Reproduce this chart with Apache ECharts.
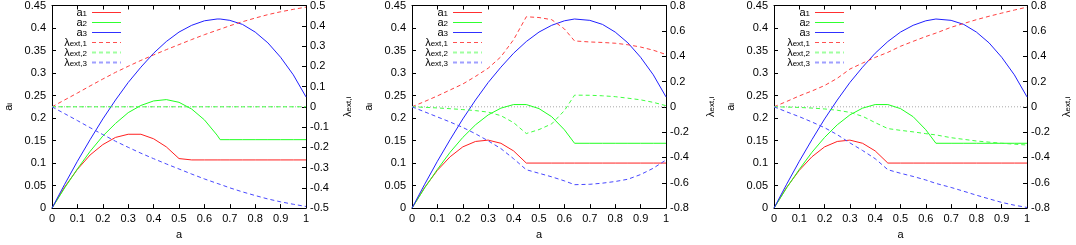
<!DOCTYPE html>
<html><head><meta charset="utf-8">
<script src="https://cdn.jsdelivr.net/npm/echarts@6/dist/echarts.min.js"></script>
<style>html,body{margin:0;padding:0;background:#fff}#c{width:1076px;height:245px}</style>
</head><body><div id="c"></div>
<script>
// ---- data ----
const seriesNames = ['a1','a2','a3','λext,1','λext,2','λext,3'];
const xTickStep = 0.1;
const leftTickStep = 0.05;

// panel 1
const X1 = [0,0.05,0.1,0.15,0.2,0.25,0.3,0.35,0.4,0.45,0.5,0.505,0.55,0.6,0.65,0.662,0.7,0.75,0.8,0.85,0.9,0.95,1];
const p1_a1 = [0,0.047,0.086,0.118,0.141,0.157,0.164,0.164,0.154,0.136,0.110,0.107,0.107,0.107,0.107,0.107,0.107,0.107,0.107,0.107,0.107,0.107,0.107];
const p1_a2 = [0,0.045,0.087,0.126,0.160,0.188,0.212,0.228,0.238,0.241,0.235,0.234,0.220,0.196,0.162,0.152,0.152,0.152,0.152,0.152,0.152,0.152,0.152];
const p1_a3 = [0,0.053,0.104,0.152,0.198,0.240,0.279,0.313,0.344,0.370,0.391,0.392,0.406,0.416,0.420,0.420,0.417,0.408,0.391,0.367,0.335,0.296,0.247];
const p1_l1 = [0,0.034,0.068,0.103,0.137,0.170,0.200,0.229,0.256,0.282,0.307,0.309,0.332,0.356,0.378,0.383,0.400,0.420,0.438,0.455,0.469,0.481,0.492];
const p1_l2 = [0,0,0,0,0,0,0,0,0,0,0,0,0,0,0,0,0,0,0,0,0,0,0];
const p1_l3 = [0,-0.034,-0.068,-0.103,-0.137,-0.170,-0.200,-0.229,-0.256,-0.282,-0.307,-0.309,-0.332,-0.356,-0.378,-0.383,-0.400,-0.420,-0.438,-0.455,-0.469,-0.481,-0.492];

// panel 2
const X2 = [0,0.05,0.1,0.15,0.2,0.25,0.3,0.35,0.4,0.45,0.5,0.55,0.6,0.64,0.7,0.75,0.8,0.85,0.9,0.95,1];
const p2_a1 = [0,0.046,0.084,0.114,0.136,0.148,0.151,0.144,0.127,0.100,0.100,0.100,0.100,0.100,0.100,0.100,0.100,0.100,0.100,0.100,0.100];
const p2_a2 = [0,0.045,0.086,0.124,0.157,0.185,0.207,0.222,0.230,0.230,0.221,0.203,0.174,0.144,0.144,0.144,0.144,0.144,0.144,0.144,0.144];
const p2_a3 = [0,0.053,0.104,0.152,0.198,0.240,0.279,0.313,0.344,0.370,0.391,0.406,0.416,0.420,0.417,0.408,0.391,0.367,0.335,0.296,0.247];
const p2_l1 = [0,0.042,0.086,0.133,0.180,0.240,0.305,0.395,0.530,0.711,0.705,0.688,0.615,0.520,0.512,0.508,0.502,0.490,0.472,0.447,0.413];
const p2_l2 = [0,-0.004,-0.009,-0.015,-0.022,-0.030,-0.042,-0.070,-0.125,-0.211,-0.180,-0.135,-0.030,0.092,0.091,0.087,0.080,0.068,0.055,0.035,0.009];
const p2_l3 = [0,-0.040,-0.080,-0.120,-0.163,-0.213,-0.269,-0.330,-0.410,-0.497,-0.525,-0.553,-0.585,-0.615,-0.612,-0.603,-0.590,-0.572,-0.535,-0.485,-0.420];

// panel 3
const X3 = [0,0.05,0.1,0.15,0.2,0.25,0.3,0.35,0.4,0.45,0.5,0.55,0.6,0.64,0.7,0.75,0.8,0.85,0.9,0.95,1];
const p3_a1 = [0,0.046,0.084,0.114,0.136,0.148,0.151,0.144,0.127,0.100,0.100,0.100,0.100,0.100,0.100,0.100,0.100,0.100,0.100,0.100,0.100];
const p3_a2 = [0,0.045,0.086,0.124,0.157,0.185,0.207,0.222,0.230,0.230,0.221,0.203,0.174,0.144,0.144,0.144,0.144,0.144,0.144,0.144,0.144];
const p3_a3 = [0,0.053,0.104,0.152,0.198,0.240,0.279,0.313,0.344,0.370,0.391,0.406,0.416,0.420,0.417,0.408,0.391,0.367,0.335,0.296,0.247];
const p3_l1 = [0,0.042,0.086,0.125,0.168,0.225,0.298,0.345,0.390,0.430,0.478,0.517,0.555,0.582,0.628,0.658,0.688,0.715,0.740,0.764,0.787];
const p3_l2 = [0,-0.002,-0.005,-0.010,-0.017,-0.027,-0.044,-0.075,-0.125,-0.172,-0.186,-0.198,-0.212,-0.222,-0.244,-0.257,-0.270,-0.279,-0.288,-0.295,-0.302];
const p3_l3 = [0,-0.040,-0.078,-0.120,-0.165,-0.220,-0.285,-0.345,-0.410,-0.497,-0.525,-0.550,-0.578,-0.605,-0.637,-0.667,-0.698,-0.727,-0.755,-0.777,-0.795];

// zero reference line on the right axis (grey dotted)
const zeroX = [0, 1];
const zeroY = [0, 0];

// axis ranges
const leftRange = [0, 0.45];
const rightRanges = [[-0.5, 0.5, 0.1], [-0.8, 0.8, 0.2], [-0.8, 0.8, 0.2]];

const panels = [
  {x: X1, ys: [p1_a1, p1_a2, p1_a3, p1_l1, p1_l2, p1_l3]},
  {x: X2, ys: [p2_a1, p2_a2, p2_a3, p2_l1, p2_l2, p2_l3]},
  {x: X3, ys: [p3_a1, p3_a2, p3_a3, p3_l1, p3_l2, p3_l3]}
];

// ---- layout / styles ----
const W = 1076;
const gridLeft = [52, 412, 774];
const gridW = 254;
const legendRightEdge = [122, 483, 845];
const rightNameGap = [36, 39, 34];
const FONT = 'Liberation Sans, Arial, sans-serif';
const styles = [
  {color: '#ff2020', width: 1, type: 'solid'},
  {color: '#20ff20', width: 1, type: 'solid'},
  {color: '#2020ff', width: 1, type: 'solid'},
  {color: '#ff4040', width: 1, type: [4, 3]},
  {color: '#40ff40', width: 1, type: [4, 3]},
  {color: '#4848ff', width: 1, type: [4, 3]}
];
const legendLine = [
  {color: '#ff3030', width: 1, type: 'solid'},
  {color: '#30ff30', width: 1, type: 'solid'},
  {color: '#3030ff', width: 1, type: 'solid'},
  {color: '#ff5050', width: 1, type: [4, 3]},
  {color: '#a0ffa0', width: 2, type: [4, 3]},
  {color: '#a0a0ff', width: 2, type: [4, 3]}
];
const rich = {
  m: {fontSize: 11, fontFamily: FONT, color: '#000', lineHeight: 11, verticalAlign: 'top', padding: [0, 0, 3, 0]},
  s: {fontSize: 8, fontFamily: FONT, color: '#000', lineHeight: 8, verticalAlign: 'bottom'}
};
function richName(n) {
  if (n.startsWith('λ')) return '{m|λ}{s|' + n.slice(1) + '}';
  return '{m|' + n[0] + '}{s|' + n.slice(1) + '}';
}

const grid = [], xAxis = [], yAxis = [], series = [], legend = [];
const tickStyle = {show: true, inside: true, length: 4, lineStyle: {color: '#000', width: 1}};
const lineAx = {show: true, onZero: false, lineStyle: {color: '#000', width: 1}};
const lab = {color: '#000', fontSize: 11, fontFamily: FONT};

panels.forEach((p, i) => {
  grid.push({left: gridLeft[i], width: gridW, top: 4, height: 211, containLabel: false});
  xAxis.push({type: 'value', gridIndex: i, min: 0, max: 1, interval: xTickStep, position: 'bottom',
    axisLine: lineAx, axisTick: tickStyle, splitLine: {show: false},
    axisLabel: Object.assign({margin: 5}, lab),
    name: 'a', nameLocation: 'middle', nameGap: 19, nameTextStyle: lab});
  xAxis.push({type: 'value', gridIndex: i, min: 0, max: 1, interval: xTickStep, position: 'top',
    axisLine: lineAx, axisTick: tickStyle, splitLine: {show: false}, axisLabel: {show: false}});
  yAxis.push({type: 'value', gridIndex: i, min: leftRange[0], max: leftRange[1], interval: leftTickStep, position: 'left',
    axisLine: lineAx, axisTick: tickStyle, splitLine: {show: false},
    axisLabel: Object.assign({margin: 6}, lab),
    name: '{m|a}{s|i}', nameLocation: 'middle', nameGap: 38, nameRotate: 90, nameTextStyle: {rich: rich}});
  const rr = rightRanges[i];
  yAxis.push({type: 'value', gridIndex: i, min: rr[0], max: rr[1], interval: rr[2], position: 'right',
    axisLine: lineAx, axisTick: tickStyle, splitLine: {show: false},
    axisLabel: Object.assign({margin: 4}, lab),
    name: '{m|λ}{s|ext,i}', nameLocation: 'middle', nameGap: rightNameGap[i], nameRotate: 90, nameTextStyle: {rich: rich}});
  series.push({
    name: 'zero', type: 'line', xAxisIndex: 2 * i, yAxisIndex: 2 * i + 1,
    data: zeroX.map((x, j) => [x, zeroY[j]]), symbol: 'none', silent: true,
    lineStyle: {color: '#a8a8a8', width: 1, type: [1, 2]}, animation: false, z: 1
  });
  p.ys.forEach((ys, k) => {
    series.push({
      name: seriesNames[k], type: 'line', xAxisIndex: 2 * i, yAxisIndex: k < 3 ? 2 * i : 2 * i + 1,
      data: p.x.map((x, j) => [x, ys[j]]),
      symbol: 'none', showSymbol: false, smooth: false,
      lineStyle: styles[k], itemStyle: {color: styles[k].color},
      animation: false, z: 2 + k
    });
  });
  legend.push({orient: 'vertical', align: 'right', right: W - legendRightEdge[i], top: 7, padding: 0,
    itemWidth: 29, itemHeight: 10, itemGap: -4, selectedMode: false,
    data: seriesNames.map((n, k) => ({name: n, itemStyle: {opacity: 0}, lineStyle: legendLine[k]})),
    formatter: richName, textStyle: {rich: rich}});
});

const chart = echarts.init(document.getElementById('c'), null, {renderer: 'canvas'});
chart.setOption({animation: false, backgroundColor: '#fff', grid, xAxis, yAxis, series, legend});
</script></body></html>
